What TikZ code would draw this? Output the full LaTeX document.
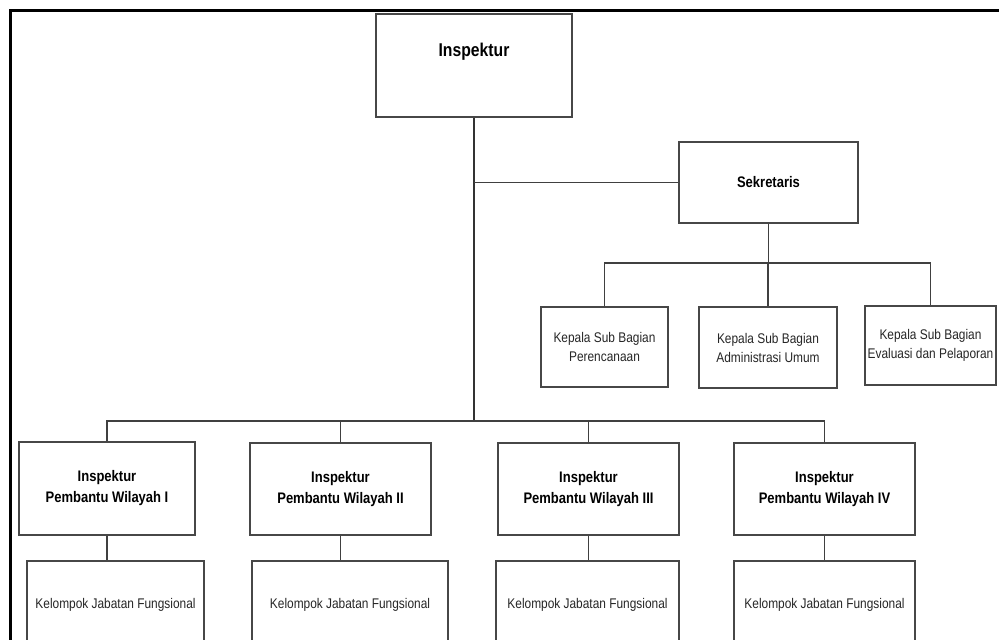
\documentclass[tikz,border=0pt]{standalone}
\usepackage{fontspec}
\setmainfont{Liberation Sans}[FakeStretch=0.85]
\begin{document}
\begin{tikzpicture}[x=1pt,y=-1pt,
  box/.style={draw=black!72, line width=1.2pt, rectangle, inner sep=0pt, align=center, fill=white},
  conn/.style={draw=black!75, line width=1.2pt},
  trunk/.style={draw=black!80, line width=2pt},
  bigtxt/.style={font=\fontsize{18.5}{22}\selectfont\bfseries},
  midtxt/.style={font=\fontsize{15.3}{21}\selectfont\bfseries},
  smalltxt/.style={font=\fontsize{14}{19}\selectfont, text=black!85}]
\useasboundingbox (0,0) rectangle (999,640);
\clip (0,0) rectangle (999,640);
% frame
\draw[line width=2.5pt, black] (10.5,700) -- (10.5,10.5) -- (1010,10.5);
% boxes
\node[box, minimum width=196pt, minimum height=103pt] (insp) at (474,65.5) {};
\node[bigtxt] (insptxt) at (474,52) {Inspektur};
\node[box, midtxt, minimum width=179pt, minimum height=81pt] (sek) at (768.5,182.5) {Sekretaris};
\node[box, smalltxt, minimum width=127pt, minimum height=80pt] (sub1) at (604.5,347) {Kepala Sub Bagian\\Perencanaan};
\node[box, smalltxt, minimum width=138pt, minimum height=81pt] (sub2) at (768,347.5) {Kepala Sub Bagian\\Administrasi Umum};
\node[box, smalltxt, minimum width=131pt, minimum height=79pt] (sub3) at (930.5,345.5) {Kepala Sub Bagian\\Evaluasi dan Pelaporan};
\node[box, midtxt, minimum width=176pt, minimum height=93pt] (wil1) at (107,488.5) {Inspektur\\Pembantu Wilayah I};
\node[box, midtxt, minimum width=181pt, minimum height=92pt] (wil2) at (340.5,489) {Inspektur\\Pembantu Wilayah II};
\node[box, midtxt, minimum width=181pt, minimum height=92pt] (wil3) at (588.5,489) {Inspektur\\Pembantu Wilayah III};
\node[box, midtxt, minimum width=181pt, minimum height=92pt] (wil4) at (824.5,489) {Inspektur\\Pembantu Wilayah IV};
\node[box, smalltxt, minimum width=177pt, minimum height=88pt] (kel1) at (115.5,605) {Kelompok Jabatan Fungsional};
\node[box, smalltxt, minimum width=196pt, minimum height=88pt] (kel2) at (350,605) {Kelompok Jabatan Fungsional};
\node[box, smalltxt, minimum width=183pt, minimum height=88pt] (kel3) at (587.5,605) {Kelompok Jabatan Fungsional};
\node[box, smalltxt, minimum width=181pt, minimum height=88pt] (kel4) at (824.5,605) {Kelompok Jabatan Fungsional};
% bus coordinates
\coordinate (tbot) at (474,421);
\coordinate (subbus) at (768.5,263);
% connectors
\draw[trunk] (insp.south) -- (tbot);
\draw[conn] (insp.south |- sek.west) -- (sek.west);
\draw[conn] (sek.south) -- (subbus);
\draw[conn] (sub1.north) -- (sub1.north |- subbus) -- (sub3.north |- subbus) -- (sub3.north);
\draw[conn] (sub2.north) -- (sub2.north |- subbus);
\draw[conn] (wil1.north) -- (wil1.north |- tbot) -- (wil4.north |- tbot) -- (wil4.north);
\draw[conn] (wil2.north) -- (wil2.north |- tbot);
\draw[conn] (wil3.north) -- (wil3.north |- tbot);
\draw[conn] (wil1.south) -- (wil1.south |- kel1.north);
\draw[conn] (wil2.south) -- (wil2.south |- kel2.north);
\draw[conn] (wil3.south) -- (wil3.south |- kel3.north);
\draw[conn] (wil4.south) -- (wil4.south |- kel4.north);
\end{tikzpicture}
\end{document}
